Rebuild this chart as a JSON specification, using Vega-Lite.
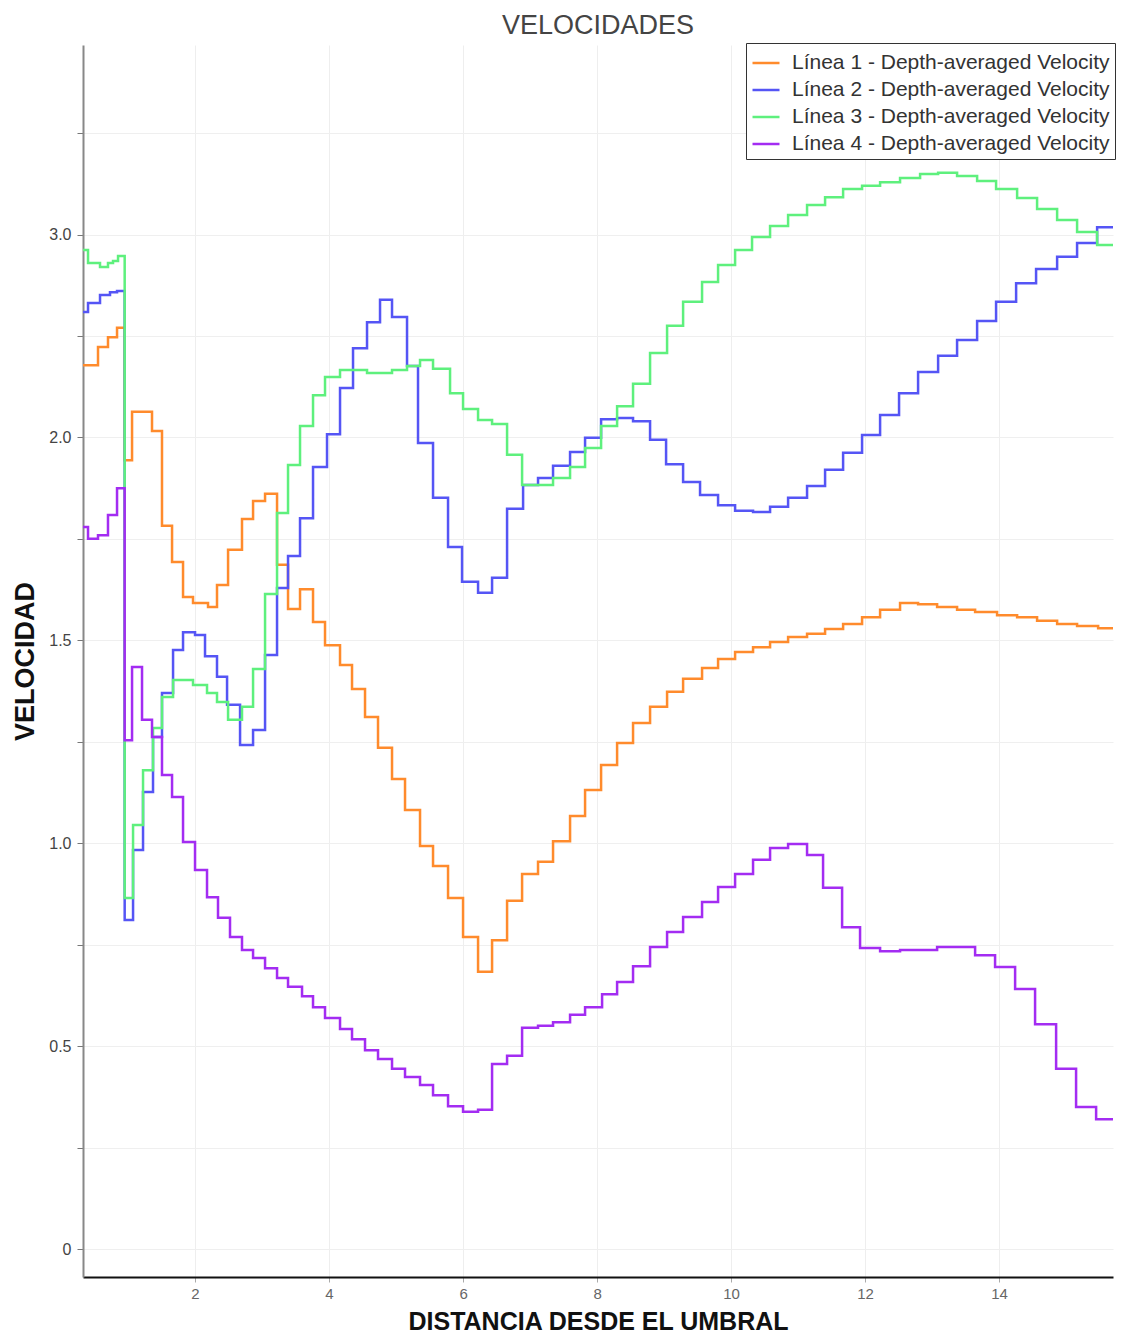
{
"$schema": "https://vega.github.io/schema/vega-lite/v6.json",
"width": 1030, "height": 1232,
"autosize": {"type": "none"},
"padding": {"left": 83, "top": 45, "right": 14, "bottom": 61},
"background": "white",
"title": {"text": "VELOCIDADES", "font": "Liberation Sans", "fontSize": 27, "fontWeight": "normal", "color": "#444444", "offset": 3, "anchor": "middle"},
"datasets": {
"d": [
{"s":"Línea 1","x":0.328,"y":2.178},{"s":"Línea 1","x":0.552,"y":2.223},{"s":"Línea 1","x":0.701,"y":2.247},{"s":"Línea 1","x":0.836,"y":2.270},{"s":"Línea 1","x":0.95,"y":1.944},{"s":"Línea 1","x":1.060,"y":2.063},{"s":"Línea 1","x":1.358,"y":2.016},{"s":"Línea 1","x":1.507,"y":1.782},{"s":"Línea 1","x":1.657,"y":1.693},{"s":"Línea 1","x":1.821,"y":1.607},{"s":"Línea 1","x":1.970,"y":1.592},{"s":"Línea 1","x":2.194,"y":1.582},{"s":"Línea 1","x":2.328,"y":1.636},{"s":"Línea 1","x":2.493,"y":1.723},{"s":"Línea 1","x":2.701,"y":1.799},{"s":"Línea 1","x":2.866,"y":1.843},{"s":"Línea 1","x":3.045,"y":1.861},{"s":"Línea 1","x":3.224,"y":1.686},{"s":"Línea 1","x":3.388,"y":1.577},{"s":"Línea 1","x":3.567,"y":1.626},{"s":"Línea 1","x":3.761,"y":1.545},{"s":"Línea 1","x":3.940,"y":1.488},{"s":"Línea 1","x":4.164,"y":1.439},{"s":"Línea 1","x":4.343,"y":1.380},{"s":"Línea 1","x":4.537,"y":1.311},{"s":"Línea 1","x":4.731,"y":1.235},{"s":"Línea 1","x":4.940,"y":1.158},{"s":"Línea 1","x":5.134,"y":1.082},{"s":"Línea 1","x":5.358,"y":0.993},{"s":"Línea 1","x":5.552,"y":0.944},{"s":"Línea 1","x":5.776,"y":0.865},{"s":"Línea 1","x":6.000,"y":0.769},{"s":"Línea 1","x":6.224,"y":0.683},{"s":"Línea 1","x":6.433,"y":0.761},{"s":"Línea 1","x":6.657,"y":0.858},{"s":"Línea 1","x":6.881,"y":0.924},{"s":"Línea 1","x":7.119,"y":0.954},{"s":"Línea 1","x":7.343,"y":1.005},{"s":"Línea 1","x":7.597,"y":1.067},{"s":"Línea 1","x":7.821,"y":1.131},{"s":"Línea 1","x":8.060,"y":1.193},{"s":"Línea 1","x":8.299,"y":1.247},{"s":"Línea 1","x":8.537,"y":1.296},{"s":"Línea 1","x":8.791,"y":1.336},{"s":"Línea 1","x":9.045,"y":1.373},{"s":"Línea 1","x":9.284,"y":1.405},{"s":"Línea 1","x":9.567,"y":1.432},{"s":"Línea 1","x":9.806,"y":1.454},{"s":"Línea 1","x":10.060,"y":1.471},{"s":"Línea 1","x":10.328,"y":1.483},{"s":"Línea 1","x":10.582,"y":1.496},{"s":"Línea 1","x":10.851,"y":1.508},{"s":"Línea 1","x":11.134,"y":1.516},{"s":"Línea 1","x":11.403,"y":1.528},{"s":"Línea 1","x":11.672,"y":1.540},{"s":"Línea 1","x":11.955,"y":1.557},{"s":"Línea 1","x":12.224,"y":1.575},{"s":"Línea 1","x":12.522,"y":1.592},{"s":"Línea 1","x":12.791,"y":1.589},{"s":"Línea 1","x":13.075,"y":1.582},{"s":"Línea 1","x":13.373,"y":1.575},{"s":"Línea 1","x":13.642,"y":1.570},{"s":"Línea 1","x":13.970,"y":1.562},{"s":"Línea 1","x":14.269,"y":1.557},{"s":"Línea 1","x":14.567,"y":1.548},{"s":"Línea 1","x":14.866,"y":1.540},{"s":"Línea 1","x":15.164,"y":1.535},{"s":"Línea 1","x":15.478,"y":1.530},{"s":"Línea 1","x":15.70,"y":1.530},
{"s":"Línea 2","x":0.328,"y":2.309},{"s":"Línea 2","x":0.403,"y":2.331},{"s":"Línea 2","x":0.582,"y":2.351},{"s":"Línea 2","x":0.731,"y":2.358},{"s":"Línea 2","x":0.836,"y":2.361},{"s":"Línea 2","x":0.95,"y":0.811},{"s":"Línea 2","x":1.075,"y":0.983},{"s":"Línea 2","x":1.224,"y":1.126},{"s":"Línea 2","x":1.373,"y":1.262},{"s":"Línea 2","x":1.507,"y":1.370},{"s":"Línea 2","x":1.672,"y":1.476},{"s":"Línea 2","x":1.821,"y":1.520},{"s":"Línea 2","x":2.000,"y":1.513},{"s":"Línea 2","x":2.149,"y":1.461},{"s":"Línea 2","x":2.328,"y":1.410},{"s":"Línea 2","x":2.478,"y":1.341},{"s":"Línea 2","x":2.672,"y":1.242},{"s":"Línea 2","x":2.866,"y":1.279},{"s":"Línea 2","x":3.045,"y":1.464},{"s":"Línea 2","x":3.224,"y":1.629},{"s":"Línea 2","x":3.388,"y":1.708},{"s":"Línea 2","x":3.567,"y":1.801},{"s":"Línea 2","x":3.761,"y":1.927},{"s":"Línea 2","x":3.970,"y":2.008},{"s":"Línea 2","x":4.164,"y":2.122},{"s":"Línea 2","x":4.358,"y":2.220},{"s":"Línea 2","x":4.567,"y":2.284},{"s":"Línea 2","x":4.761,"y":2.339},{"s":"Línea 2","x":4.940,"y":2.297},{"s":"Línea 2","x":5.164,"y":2.176},{"s":"Línea 2","x":5.328,"y":1.986},{"s":"Línea 2","x":5.552,"y":1.851},{"s":"Línea 2","x":5.776,"y":1.730},{"s":"Línea 2","x":5.985,"y":1.644},{"s":"Línea 2","x":6.224,"y":1.617},{"s":"Línea 2","x":6.433,"y":1.654},{"s":"Línea 2","x":6.657,"y":1.824},{"s":"Línea 2","x":6.896,"y":1.883},{"s":"Línea 2","x":7.119,"y":1.900},{"s":"Línea 2","x":7.343,"y":1.930},{"s":"Línea 2","x":7.597,"y":1.964},{"s":"Línea 2","x":7.821,"y":1.999},{"s":"Línea 2","x":8.060,"y":2.045},{"s":"Línea 2","x":8.299,"y":2.048},{"s":"Línea 2","x":8.537,"y":2.040},{"s":"Línea 2","x":8.791,"y":1.994},{"s":"Línea 2","x":9.030,"y":1.934},{"s":"Línea 2","x":9.284,"y":1.890},{"s":"Línea 2","x":9.537,"y":1.858},{"s":"Línea 2","x":9.806,"y":1.833},{"s":"Línea 2","x":10.060,"y":1.819},{"s":"Línea 2","x":10.328,"y":1.816},{"s":"Línea 2","x":10.582,"y":1.829},{"s":"Línea 2","x":10.851,"y":1.851},{"s":"Línea 2","x":11.134,"y":1.880},{"s":"Línea 2","x":11.403,"y":1.920},{"s":"Línea 2","x":11.672,"y":1.962},{"s":"Línea 2","x":11.955,"y":2.006},{"s":"Línea 2","x":12.224,"y":2.055},{"s":"Línea 2","x":12.507,"y":2.109},{"s":"Línea 2","x":12.791,"y":2.161},{"s":"Línea 2","x":13.090,"y":2.201},{"s":"Línea 2","x":13.373,"y":2.240},{"s":"Línea 2","x":13.672,"y":2.287},{"s":"Línea 2","x":13.955,"y":2.334},{"s":"Línea 2","x":14.254,"y":2.380},{"s":"Línea 2","x":14.552,"y":2.415},{"s":"Línea 2","x":14.866,"y":2.445},{"s":"Línea 2","x":15.164,"y":2.479},{"s":"Línea 2","x":15.463,"y":2.518},{"s":"Línea 2","x":15.70,"y":2.518},
{"s":"Línea 3","x":0.328,"y":2.462},{"s":"Línea 3","x":0.403,"y":2.430},{"s":"Línea 3","x":0.582,"y":2.420},{"s":"Línea 3","x":0.701,"y":2.430},{"s":"Línea 3","x":0.776,"y":2.435},{"s":"Línea 3","x":0.851,"y":2.447},{"s":"Línea 3","x":0.95,"y":0.865},{"s":"Línea 3","x":1.075,"y":1.045},{"s":"Línea 3","x":1.224,"y":1.180},{"s":"Línea 3","x":1.373,"y":1.284},{"s":"Línea 3","x":1.507,"y":1.360},{"s":"Línea 3","x":1.672,"y":1.402},{"s":"Línea 3","x":1.970,"y":1.390},{"s":"Línea 3","x":2.179,"y":1.370},{"s":"Línea 3","x":2.328,"y":1.348},{"s":"Línea 3","x":2.493,"y":1.304},{"s":"Línea 3","x":2.701,"y":1.336},{"s":"Línea 3","x":2.866,"y":1.429},{"s":"Línea 3","x":3.045,"y":1.614},{"s":"Línea 3","x":3.224,"y":1.814},{"s":"Línea 3","x":3.388,"y":1.932},{"s":"Línea 3","x":3.567,"y":2.028},{"s":"Línea 3","x":3.761,"y":2.104},{"s":"Línea 3","x":3.940,"y":2.149},{"s":"Línea 3","x":4.164,"y":2.166},{"s":"Línea 3","x":4.567,"y":2.159},{"s":"Línea 3","x":4.940,"y":2.166},{"s":"Línea 3","x":5.164,"y":2.176},{"s":"Línea 3","x":5.358,"y":2.191},{"s":"Línea 3","x":5.552,"y":2.169},{"s":"Línea 3","x":5.806,"y":2.109},{"s":"Línea 3","x":6.000,"y":2.070},{"s":"Línea 3","x":6.224,"y":2.043},{"s":"Línea 3","x":6.433,"y":2.033},{"s":"Línea 3","x":6.657,"y":1.957},{"s":"Línea 3","x":6.881,"y":1.883},{"s":"Línea 3","x":7.343,"y":1.900},{"s":"Línea 3","x":7.597,"y":1.927},{"s":"Línea 3","x":7.821,"y":1.974},{"s":"Línea 3","x":8.060,"y":2.028},{"s":"Línea 3","x":8.299,"y":2.077},{"s":"Línea 3","x":8.537,"y":2.132},{"s":"Línea 3","x":8.791,"y":2.208},{"s":"Línea 3","x":9.045,"y":2.275},{"s":"Línea 3","x":9.284,"y":2.334},{"s":"Línea 3","x":9.567,"y":2.383},{"s":"Línea 3","x":9.806,"y":2.425},{"s":"Línea 3","x":10.060,"y":2.462},{"s":"Línea 3","x":10.313,"y":2.494},{"s":"Línea 3","x":10.582,"y":2.521},{"s":"Línea 3","x":10.851,"y":2.548},{"s":"Línea 3","x":11.134,"y":2.573},{"s":"Línea 3","x":11.403,"y":2.592},{"s":"Línea 3","x":11.672,"y":2.612},{"s":"Línea 3","x":11.955,"y":2.620},{"s":"Línea 3","x":12.224,"y":2.629},{"s":"Línea 3","x":12.522,"y":2.639},{"s":"Línea 3","x":12.821,"y":2.649},{"s":"Línea 3","x":13.090,"y":2.652},{"s":"Línea 3","x":13.373,"y":2.644},{"s":"Línea 3","x":13.672,"y":2.632},{"s":"Línea 3","x":13.955,"y":2.612},{"s":"Línea 3","x":14.269,"y":2.590},{"s":"Línea 3","x":14.567,"y":2.563},{"s":"Línea 3","x":14.866,"y":2.536},{"s":"Línea 3","x":15.164,"y":2.506},{"s":"Línea 3","x":15.463,"y":2.474},{"s":"Línea 3","x":15.70,"y":2.474},
{"s":"Línea 4","x":0.328,"y":1.779},{"s":"Línea 4","x":0.403,"y":1.750},{"s":"Línea 4","x":0.552,"y":1.759},{"s":"Línea 4","x":0.701,"y":1.809},{"s":"Línea 4","x":0.836,"y":1.875},{"s":"Línea 4","x":0.95,"y":1.254},{"s":"Línea 4","x":1.060,"y":1.434},{"s":"Línea 4","x":1.209,"y":1.304},{"s":"Línea 4","x":1.358,"y":1.262},{"s":"Línea 4","x":1.507,"y":1.168},{"s":"Línea 4","x":1.657,"y":1.114},{"s":"Línea 4","x":1.821,"y":1.003},{"s":"Línea 4","x":2.000,"y":0.934},{"s":"Línea 4","x":2.179,"y":0.867},{"s":"Línea 4","x":2.343,"y":0.816},{"s":"Línea 4","x":2.522,"y":0.769},{"s":"Línea 4","x":2.701,"y":0.737},{"s":"Línea 4","x":2.866,"y":0.717},{"s":"Línea 4","x":3.045,"y":0.692},{"s":"Línea 4","x":3.224,"y":0.668},{"s":"Línea 4","x":3.388,"y":0.646},{"s":"Línea 4","x":3.597,"y":0.623},{"s":"Línea 4","x":3.761,"y":0.596},{"s":"Línea 4","x":3.940,"y":0.569},{"s":"Línea 4","x":4.164,"y":0.542},{"s":"Línea 4","x":4.343,"y":0.517},{"s":"Línea 4","x":4.537,"y":0.490},{"s":"Línea 4","x":4.731,"y":0.468},{"s":"Línea 4","x":4.940,"y":0.444},{"s":"Línea 4","x":5.134,"y":0.424},{"s":"Línea 4","x":5.358,"y":0.404},{"s":"Línea 4","x":5.552,"y":0.379},{"s":"Línea 4","x":5.776,"y":0.352},{"s":"Línea 4","x":6.000,"y":0.338},{"s":"Línea 4","x":6.224,"y":0.343},{"s":"Línea 4","x":6.433,"y":0.456},{"s":"Línea 4","x":6.657,"y":0.476},{"s":"Línea 4","x":6.881,"y":0.545},{"s":"Línea 4","x":7.119,"y":0.550},{"s":"Línea 4","x":7.343,"y":0.559},{"s":"Línea 4","x":7.597,"y":0.577},{"s":"Línea 4","x":7.821,"y":0.596},{"s":"Línea 4","x":8.075,"y":0.628},{"s":"Línea 4","x":8.299,"y":0.658},{"s":"Línea 4","x":8.537,"y":0.697},{"s":"Línea 4","x":8.791,"y":0.744},{"s":"Línea 4","x":9.045,"y":0.781},{"s":"Línea 4","x":9.284,"y":0.818},{"s":"Línea 4","x":9.567,"y":0.855},{"s":"Línea 4","x":9.806,"y":0.892},{"s":"Línea 4","x":10.060,"y":0.924},{"s":"Línea 4","x":10.328,"y":0.959},{"s":"Línea 4","x":10.582,"y":0.988},{"s":"Línea 4","x":10.851,"y":0.998},{"s":"Línea 4","x":11.134,"y":0.971},{"s":"Línea 4","x":11.373,"y":0.890},{"s":"Línea 4","x":11.657,"y":0.793},{"s":"Línea 4","x":11.925,"y":0.742},{"s":"Línea 4","x":12.224,"y":0.734},{"s":"Línea 4","x":12.522,"y":0.737},{"s":"Línea 4","x":13.075,"y":0.744},{"s":"Línea 4","x":13.642,"y":0.724},{"s":"Línea 4","x":13.940,"y":0.695},{"s":"Línea 4","x":14.239,"y":0.641},{"s":"Línea 4","x":14.537,"y":0.554},{"s":"Línea 4","x":14.851,"y":0.444},{"s":"Línea 4","x":15.149,"y":0.350},{"s":"Línea 4","x":15.448,"y":0.320},{"s":"Línea 4","x":15.70,"y":0.320}
]
},
"data": {"name": "d"},
"mark": {"type": "line", "interpolate": "step-after", "strokeWidth": 2.5, "clip": true},
"encoding": {
"x": {"field": "x", "type": "quantitative",
 "scale": {"domain": [0.328, 15.7], "nice": false, "zero": false},
 "axis": {"title": "DISTANCIA DESDE EL UMBRAL", "values": [2,4,6,8,10,12,14], "format": "d",
  "labelFont": "Liberation Sans", "labelFontSize": 15, "labelColor": "#666666",
  "tickColor": "#aaaaaa", "tickSize": 5, "labelPadding": 4,
  "domainColor": "#111111", "domainWidth": 2,
  "grid": true, "gridColor": "#eeeeee",
  "titleFont": "Liberation Sans", "titleFontSize": 25, "titleFontWeight": "bold", "titleColor": "#111111", "titlePadding": 8}},
"y": {"field": "y", "type": "quantitative",
 "scale": {"domain": [-0.069, 2.967], "nice": false, "zero": false},
 "axis": {"title": "VELOCIDAD", "values": [0,0.25,0.5,0.75,1,1.25,1.5,1.75,2,2.25,2.5,2.75],
  "labelExpr": "datum.value == 0 ? '0' : (datum.value == 2.5 ? '3.0' : ((datum.value * 2) % 1 == 0 ? format(datum.value, '.1f') : ''))",
  "labelFont": "Liberation Sans", "labelFontSize": 16, "labelColor": "#444444",
  "tickColor": "#777777", "tickSize": 6, "labelPadding": 6,
  "domainColor": "#888888", "domainWidth": 2,
  "grid": true, "gridColor": "#efefef",
  "titleFont": "Liberation Sans", "titleFontSize": 27, "titleFontWeight": "bold", "titleColor": "#111111", "titlePadding": 9}},
"color": {"field": "s", "type": "nominal",
 "scale": {"domain": ["Línea 1","Línea 2","Línea 3","Línea 4"], "range": ["#ff8b2c","#5555f5","#5ef07d","#a32cf2"]},
 "legend": {"title": null, "orient": "top-right", "offset": -2, "strokeColor": "#333333", "fillColor": "white", "padding": 5,
  "symbolType": "stroke", "symbolSize": 729, "symbolStrokeWidth": 2.5,
  "labelFont": "Liberation Sans", "labelFontSize": 21, "labelColor": "#333333", "labelOffset": 11, "rowPadding": 2, "labelLimit": 400,
  "labelExpr": "datum.label + ' - Depth-averaged Velocity'"}}
},
"config": {"view": {"stroke": null}}
}
